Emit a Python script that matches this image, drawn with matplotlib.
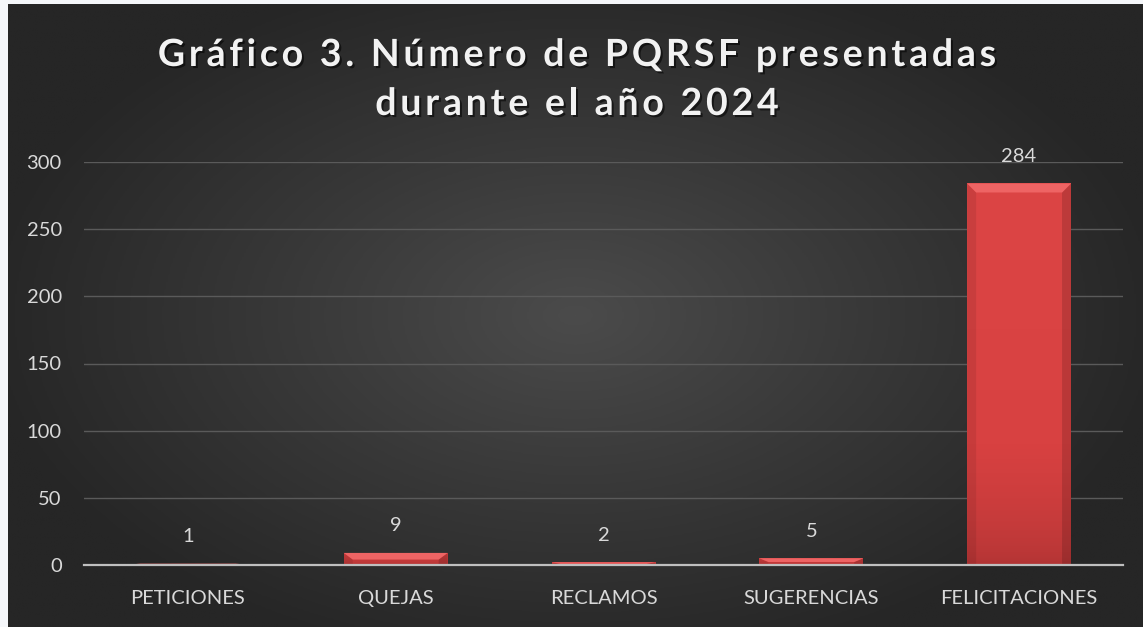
import numpy as np
import matplotlib.pyplot as plt
import matplotlib.patheffects as pe
from matplotlib.patches import Polygon
from matplotlib.colors import LinearSegmentedColormap
from matplotlib.font_manager import FontProperties
from matplotlib.textpath import TextToPath

# ============================================================
# DATA
# ============================================================

categories = ["PETICIONES", "QUEJAS", "RECLAMOS", "SUGERENCIAS", "FELICITACIONES"]
counts     = [1, 9, 2, 5, 284]
yticks     = [0, 50, 100, 150, 200, 250, 300]

title_lines = ["Gráfico 3. Número de PQRSF presentadas", "durante el año 2024"]

W, H, DPI = 1143, 627, 100
TXT = "#d9d9d9"
FONT = "Lato"

fig = plt.figure(figsize=(W / DPI, H / DPI), dpi=DPI)
fig.patch.set_facecolor("#f5f7fa")

# ============================================================
# BACKGROUND  (dark radial gradient, Excel style)
# ============================================================

x0f, y1f = 8 / W, 1 - 4 / H
bg = fig.add_axes([x0f, 0, 1 - x0f, y1f])
bg.set_axis_off()
gx, gy = np.meshgrid(np.linspace(-1, 1, 600), np.linspace(-1, 1, 330))
r = np.clip(np.sqrt((gx / 1.05) ** 2 + (gy / 1.15) ** 2), 0, 1)
bg_cmap = LinearSegmentedColormap.from_list("bg", ["#4b4b4b", "#383838", "#262626"])
bg.imshow(r, cmap=bg_cmap, vmin=0, vmax=1, aspect="auto",
          extent=[0, 1, 0, 1], interpolation="bilinear")
bg.set_xlim(0, 1)
bg.set_ylim(0, 1)

# ============================================================
# PLOT AREA
# ============================================================

left, right = 84 / W, 1123 / W
bottom, top = 1 - 565 / H, 1 - 162 / H
ax = fig.add_axes([left, bottom, right - left, top - bottom])
ax.patch.set_alpha(0)

xpos = np.arange(len(categories))
bar_w = 0.5
bars = ax.bar(xpos, counts, width=bar_w, color="#d63e3e", zorder=3)

ax.set_xlim(-0.5, len(categories) - 0.5)
ax.set_ylim(0, 300)

# vertical gradient + bevel on each bar
bar_cmap = LinearSegmentedColormap.from_list("bar", ["#b23434", "#d84141", "#dc4545"])
px_y = (565 - 162) / 300.0       # pixels per unit
px_x = (1123 - 84) / len(categories)
for b, v in zip(bars, counts):
    bx0, bx1 = b.get_x(), b.get_x() + b.get_width()
    h = b.get_height()
    im = ax.imshow(np.linspace(1, 0, 100).reshape(-1, 1) ** 0.6 * min(1, 0.4 + h / 300.0),
                   cmap=bar_cmap, vmin=0, vmax=1, aspect="auto",
                   extent=[bx0, bx1, 0, h], zorder=3.1, interpolation="bilinear")
    im.set_clip_path(b)
    by = min(9 / px_y, h * 0.55)
    bxw = 9 / px_x
    ax.add_patch(Polygon([(bx0, h), (bx1, h), (bx1 - bxw, h - by), (bx0 + bxw, h - by)],
                         closed=True, facecolor="#ee6464", edgecolor="none", zorder=3.3))
    ax.add_patch(Polygon([(bx0, 0), (bx0, h), (bx0 + bxw, h - by), (bx0 + bxw, 0)],
                         closed=True, facecolor="#000000", alpha=0.08, edgecolor="none", zorder=3.2))
    ax.add_patch(Polygon([(bx1, 0), (bx1, h), (bx1 - bxw, h - by), (bx1 - bxw, 0)],
                         closed=True, facecolor="#000000", alpha=0.14, edgecolor="none", zorder=3.2))
    ax.text(b.get_x() + b.get_width() / 2, h + 27 / px_y, f"{v}",
            ha="center", va="center", color=TXT, fontsize=14.5, family=FONT, zorder=5)

# grid and axis styling
ax.set_yticks(yticks)
ax.grid(axis="y", color="#5a5a5a", linewidth=1.0, zorder=0)
ax.set_axisbelow(True)
for s in ["top", "right", "left"]:
    ax.spines[s].set_visible(False)
ax.spines["bottom"].set_color("#bfbfbf")
ax.spines["bottom"].set_linewidth(1.6)
ax.spines["bottom"].set_zorder(4)

ax.set_xticks(xpos)
ax.set_xticklabels(categories)
ax.tick_params(axis="x", length=0, pad=18, labelsize=14.5, labelcolor=TXT)
ax.tick_params(axis="y", length=0, pad=16, labelsize=14.5, labelcolor=TXT)
for lab in ax.get_xticklabels() + ax.get_yticklabels():
    lab.set_family(FONT)

# ============================================================
# TITLE  (letter-spaced, drawn char by char)
# ============================================================

tprop = FontProperties(family="Lato", weight="bold", size=27)
t2p = TextToPath()
spacing_pt = 2.7
shadow = [pe.withSimplePatchShadow(offset=(1.5, -1.5), shadow_rgbFace="black", alpha=0.55)]


def text_w(s):
    w, _, _ = t2p.get_text_width_height_descent(s, tprop, ismath=False)
    return w


baselines = [1 - 66 / H, 1 - 115 / H]
for line, yb in zip(title_lines, baselines):
    total_pt = text_w(line) + spacing_pt * (len(line) - 1)
    x_start = 577 / W - total_pt * DPI / 72 / 2 / W
    for i, ch in enumerate(line):
        off_pt = (text_w(line[:i]) if i else 0) + spacing_pt * i
        fig.text(x_start + off_pt * DPI / 72 / W, yb, ch, ha="left", va="baseline",
                 fontproperties=tprop, color="#f2f2f2", path_effects=shadow)

plt.savefig("out.png", dpi=DPI, facecolor=fig.get_facecolor())
